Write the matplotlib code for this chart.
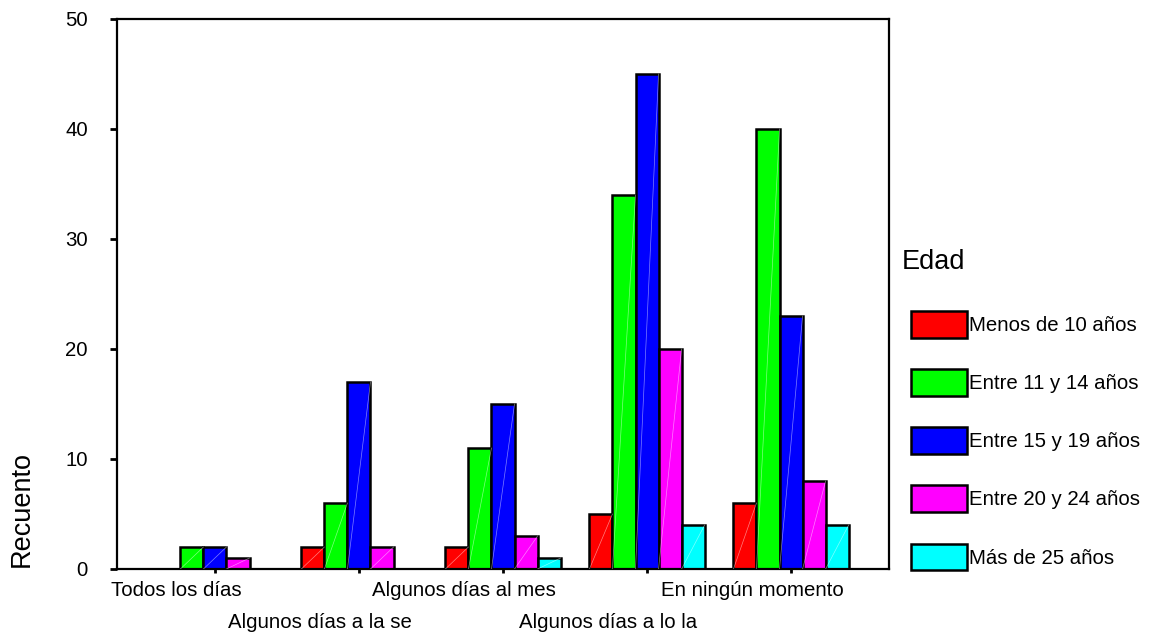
import numpy as np
import matplotlib
matplotlib.use("Agg")
import matplotlib.pyplot as plt

plt.rcParams['font.family'] = ['Liberation Sans', 'DejaVu Sans']

categories = ["Todos los días", "Algunos días a la se", "Algunos días al mes",
              "Algunos días a lo la", "En ningún momento"]
series = ["Menos de 10 años", "Entre 11 y 14 años", "Entre 15 y 19 años",
          "Entre 20 y 24 años", "Más de 25 años"]
menos_10 = [0, 2, 2, 5, 6]
entre_11_14 = [2, 6, 11, 34, 40]
entre_15_19 = [2, 17, 15, 45, 23]
entre_20_24 = [1, 2, 3, 20, 8]
mas_25 = [0, 0, 1, 4, 4]
values = [menos_10, entre_11_14, entre_15_19, entre_20_24, mas_25]
colors = ['#FF0000', '#00FF00', '#0000FF', '#FF00FF', '#00FFFF']

fig = plt.figure(figsize=(11.5, 6.37), dpi=100)
ax = fig.add_axes([117/1150, 1 - 569/637, 772/1150, 550/637])

x = np.arange(len(categories))
w = 0.16
handles = []
for i, (vals, c) in enumerate(zip(values, colors)):
    bars = ax.bar(x + (i - 2) * w, vals, w, color=c, edgecolor='black',
                  linewidth=1.8, label=series[i], zorder=2)
    handles.append(bars)
    # faint diagonal highlight like the original rendering
    for r in bars.patches:
        if r.get_height() > 0:
            ax.plot([r.get_x(), r.get_x() + r.get_width()], [0, r.get_height()],
                    color='white', lw=0.5, alpha=0.5, zorder=3)

ax.set_xlim(-0.68, 4.68)
ax.set_ylim(0, 50)
ax.set_yticks(range(0, 51, 10))
ax.set_xticks(x)
ax.set_xticklabels([])
ax.tick_params(axis='y', direction='out', length=5, width=2, pad=16, labelsize=14.7)
ax.tick_params(axis='x', direction='out', length=3, width=2)
for s in ax.spines.values():
    s.set_linewidth(1.6)

# staggered category labels
for i, lab in enumerate(categories):
    yoff = -0.04 if i % 2 == 0 else -0.098
    ax.text(i - 0.27, yoff, lab, transform=ax.get_xaxis_transform(),
            ha='center', va='center', fontsize=14.7)

fig.text(22/1150, 1 - 509/637, "Recuento", rotation=90, ha='center',
         va='center', fontsize=19.5)
fig.text(902/1150, 1 - 262/637, "Edad", ha='left', va='center', fontsize=19.5)

leg = fig.legend(handles=handles, labels=series, loc='upper left',
                 bbox_to_anchor=(911/1150, 1 - 311/637), frameon=False,
                 fontsize=14.7, handlelength=2.75, handleheight=1.62,
                 labelspacing=1.55, handletextpad=0.1, borderpad=0,
                 borderaxespad=0)
for p in leg.get_patches():
    p.set_linewidth(1.8)

fig.savefig("out.png", dpi=100)
